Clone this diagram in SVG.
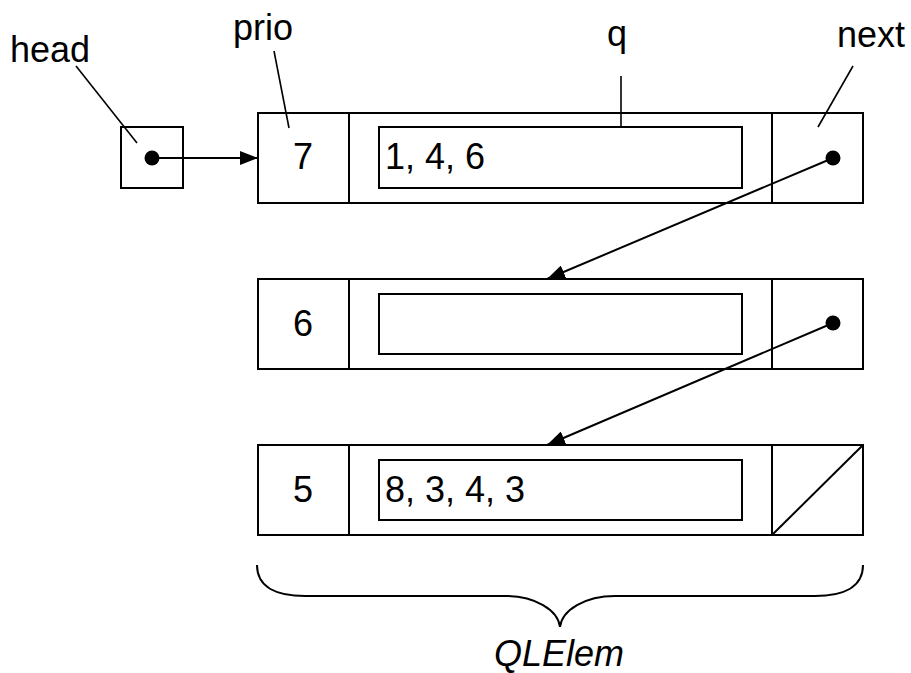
<svg xmlns="http://www.w3.org/2000/svg" width="911" height="673" viewBox="0 0 911 673">
<style>
.box{fill:#fff;stroke:#000;stroke-width:2}
.ln{fill:none;stroke:#000;stroke-width:2}
.ld{fill:none;stroke:#000;stroke-width:1.6}
.t{font-family:"Liberation Sans",Arial,sans-serif;font-size:36px;fill:#000}
.dot{fill:#000}
</style>
<defs>
<marker id="ah" viewBox="0 0 18 14" refX="18" refY="7" markerWidth="18" markerHeight="14" markerUnits="userSpaceOnUse" orient="auto">
<path d="M0,0 L18,7 L0,14 z" fill="#000"/>
</marker>
</defs>
<rect width="911" height="673" fill="#fff"/>
<g id="head">
<rect class="box" x="121" y="127" width="62" height="61"/>
<circle class="dot" cx="152" cy="158" r="7.5"/>
<text class="t" x="10" y="62">head</text>
</g>
<g id="node1">
<rect class="box" x="258" y="113" width="605" height="90"/>
<line class="ln" x1="349" y1="113" x2="349" y2="203"/>
<line class="ln" x1="772" y1="113" x2="772" y2="203"/>
<rect class="box" x="379" y="127" width="363" height="61"/>
<text class="t" x="303" y="169" text-anchor="middle">7</text>
<text class="t" x="385" y="169">1, 4, 6</text>
<circle class="dot" cx="833" cy="158" r="7.5"/>
</g>
<g id="node2">
<rect class="box" x="258" y="279" width="605" height="90"/>
<line class="ln" x1="349" y1="279" x2="349" y2="369"/>
<line class="ln" x1="772" y1="279" x2="772" y2="369"/>
<rect class="box" x="379" y="294" width="363" height="60"/>
<text class="t" x="303" y="336" text-anchor="middle">6</text>
<circle class="dot" cx="833" cy="323" r="7.5"/>
</g>
<g id="node3">
<rect class="box" x="258" y="445" width="605" height="90"/>
<line class="ln" x1="349" y1="445" x2="349" y2="535"/>
<line class="ln" x1="772" y1="445" x2="772" y2="535"/>
<line class="ln" x1="772" y1="535" x2="863" y2="445"/>
<rect class="box" x="379" y="460" width="363" height="60"/>
<text class="t" x="303" y="502" text-anchor="middle">5</text>
<text class="t" x="385" y="502">8, 3, 4, 3</text>
</g>
<g id="labels">
<text class="t" x="233" y="40">prio</text>
<text class="t" x="607" y="46">q</text>
<text class="t" x="837" y="47">next</text>
<text class="t" x="494" y="666" font-style="italic">QLElem</text>
</g>
<g id="connectors">
<line class="ld" x1="76" y1="66" x2="137" y2="143"/>
<line class="ld" x1="274" y1="51" x2="289" y2="128"/>
<line class="ld" x1="621" y1="76" x2="621" y2="127"/>
<line class="ld" x1="853" y1="66" x2="818" y2="127"/>
<line class="ln" x1="152" y1="158" x2="258" y2="158" marker-end="url(#ah)"/>
<line class="ln" x1="833" y1="158" x2="547" y2="279" marker-end="url(#ah)"/>
<line class="ln" x1="833" y1="323" x2="547" y2="445" marker-end="url(#ah)"/>
<path class="ln" d="M257,565 C257,588 278,596 305,596 L505,596 C535,596 558,610 560,627 C562,610 585,596 615,596 L815,596 C842,596 863,588 863,565"/>
</g>
</svg>
